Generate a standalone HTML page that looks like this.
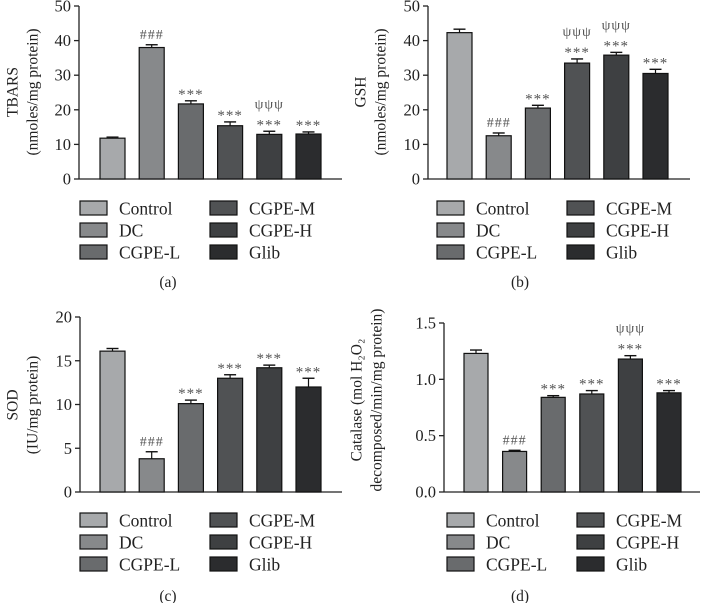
<!DOCTYPE html>
<html><head><meta charset="utf-8"><style>
body{margin:0;background:#fff}
svg{display:block;font-family:"Liberation Serif",serif}
</style></head><body>
<svg id="c" width="701" height="603" viewBox="0 0 701 603"></svg>
<script>
const categories=["Control","DC","CGPE-L","CGPE-M","CGPE-H","Glib"];
const colors=["#a7a9ab","#87898b","#696b6d","#505254","#3e4042","#2b2c2e"];
const tbarsValues=[11.8,38,21.7,15.4,12.9,13];
const tbarsErrors=[0.3,0.8,0.9,1.1,0.9,0.6];
const gshValues=[42.3,12.5,20.5,33.5,35.8,30.5];
const gshErrors=[1,0.8,0.8,1.2,0.8,1.2];
const sodValues=[16.1,3.8,10.1,13,14.2,12];
const sodErrors=[0.3,0.8,0.4,0.4,0.3,1];
const catValues=[1.23,0.36,0.84,0.87,1.18,0.88];
const catErrors=[0.03,0.01,0.015,0.03,0.03,0.02];
const tbarsTicks=["0","10","20","30","40","50"];
const gshTicks=["0","10","20","30","40","50"];
const sodTicks=["0","5","10","15","20"];
const catTicks=["0.0","0.5","1.0","1.5"];
const tbarsMarks=["","###","***","***","ψψψ\n***","***"];
const gshMarks=["","###","***","ψψψ\n***","ψψψ\n***","***"];
const sodMarks=["","###","***","***","***","***"];
const catMarks=["","###","***","***","ψψψ\n***","***"];

const svg=document.getElementById('c');
const NS="http://www.w3.org/2000/svg";
function mk(t,a,p){const e=document.createElementNS(NS,t);for(const k in a)e.setAttribute(k,a[k]);(p||svg).appendChild(e);return e;}

const panels=[
 {id:"a",vals:tbarsValues,errs:tbarsErrors,ticks:tbarsTicks,marks:tbarsMarks,max:50,ax:79,right:342,y0:179,ytop:6,bx:100,bw:25,pitch:39.2,titles:["TBARS","(nmoles/mg protein)"],tx:[14,34],ty:92,leg:[80,210],legY:201,cap:[168,287]},
 {id:"b",vals:gshValues,errs:gshErrors,ticks:gshTicks,marks:gshMarks,max:50,ax:428,right:690,y0:179,ytop:6,bx:447,bw:25,pitch:39.2,titles:["GSH","(nmoles/mg protein)"],tx:[362,382],ty:92,leg:[437,567],legY:201,cap:[520,287]},
 {id:"c",vals:sodValues,errs:sodErrors,ticks:sodTicks,marks:sodMarks,max:20,ax:80,right:342,y0:492,ytop:317,bx:100,bw:25,pitch:39.2,titles:["SOD","(IU/mg protein)"],tx:[14,34],ty:405,leg:[80,210],legY:513,cap:[168,601]},
 {id:"d",vals:catValues,errs:catErrors,ticks:catTicks,marks:catMarks,max:1.5,ax:444,right:700,y0:492,ytop:323,bx:464,bw:24,pitch:38.6,titles:["Catalase (mol H\u2082O\u2082","decomposed/min/mg protein)"],tx:[358,378],ty:400,leg:[447,577],legY:513,cap:[520,601]}
];

panels.forEach(p=>{
 const g=mk('g',{});
 
 
 const y=v=>p.y0-(v/p.max)*(p.y0-p.ytop);
 const xa=mk('line',{x1:p.ax,y1:p.ytop,x2:p.ax,y2:p.y0,stroke:"#222","stroke-width":1.3},g);
 
 const xb=mk('line',{x1:p.ax,y1:p.y0,x2:p.right,y2:p.y0,stroke:"#222","stroke-width":1.3},g);
 
 p.ticks.forEach((t,i)=>{
  const v=i*p.max/(p.ticks.length-1);const yy=y(v);
  mk('line',{x1:p.ax-5,y1:yy,x2:p.ax,y2:yy,stroke:"#222","stroke-width":1.3},g);
  const tl=mk('text',{x:p.ax-8,y:yy+5.5,"text-anchor":"end","font-size":16.5,fill:"#222"},g);
  tl.textContent=t;
  
 });
 p.titles.forEach((t,i)=>{
  const tt=mk('text',{x:p.tx[i],y:p.ty,"text-anchor":"middle","font-size":15.5,fill:"#222",transform:`rotate(-90 ${p.tx[i]} ${p.ty})`,"dominant-baseline":"middle"},g);
  tt.textContent=t;
  
 });
 p.vals.forEach((v,i)=>{
  const x=p.bx+i*p.pitch, top=y(v), et=y(v+p.errs[i]);
  const r=mk('rect',{x:x,y:top,width:p.bw,height:p.y0-top,fill:colors[i],stroke:"#111","stroke-width":1.2},g);
  
  
  const cx=x+p.bw/2;
  mk('line',{x1:cx,y1:top,x2:cx,y2:et,stroke:"#111","stroke-width":1.2},g);
  mk('line',{x1:cx-6,y1:et,x2:cx+6,y2:et,stroke:"#111","stroke-width":1.4},g);
  const lines=p.marks[i]?p.marks[i].split("\n"):[];
  lines.reverse().forEach((m,k)=>{
   const a=mk('text',{x:cx,y:et-6-k*17+(m==="***"?4:0),"text-anchor":"middle","font-size":m==="***"?15:14,"letter-spacing":1,fill:"#555"},g);
   a.textContent=m;
   
  });
 });
 categories.forEach((c,i)=>{
  const col=Math.floor(i/3),row=i%3;
  const lx=p.leg[col],ly=p.legY+row*22;
  const le=mk('g',{},g);
  
  mk('rect',{x:lx,y:ly,width:27,height:14,fill:colors[i],stroke:"#111","stroke-width":1.2},le);
  const lt=mk('text',{x:lx+39,y:ly+13.5,"font-size":17.5,fill:"#222"},le);
  lt.textContent=c;
 });
 const cap=mk('text',{x:p.cap[0],y:p.cap[1],"text-anchor":"middle","font-size":15.5,fill:"#222"},g);
 cap.textContent="("+p.id+")";
 
});
</script>
</body></html>
